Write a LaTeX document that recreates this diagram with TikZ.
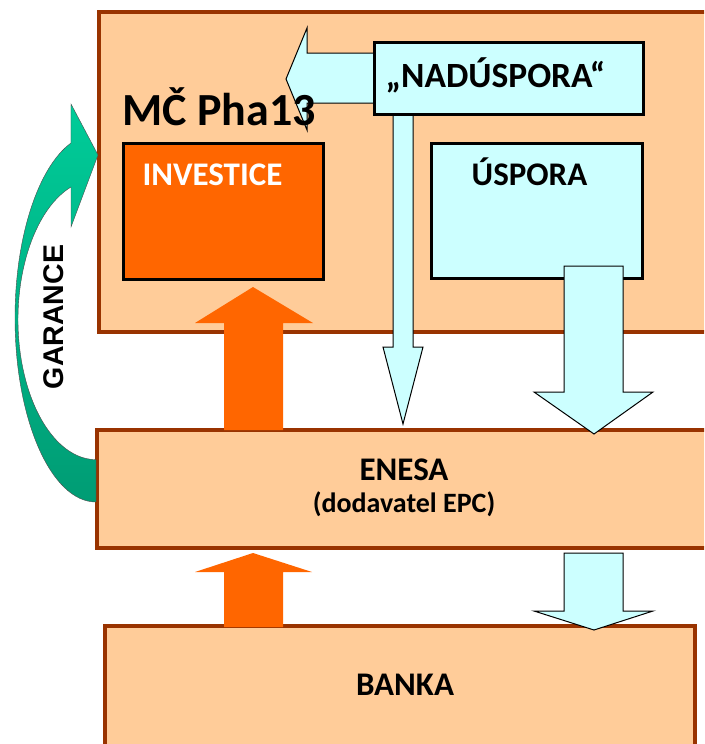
\documentclass[tikz,border=0pt]{standalone}
\usepackage{fontspec}
\setmainfont{Carlito}
\newfontfamily\garfont{Liberation Sans}
\definecolor{peach}{HTML}{FFCC99}
\definecolor{brownb}{HTML}{993300}
\definecolor{orng}{HTML}{FF6600}
\definecolor{lcyan}{HTML}{CCFFFF}
\definecolor{gtop}{HTML}{00CC99}
\definecolor{gbot}{HTML}{009C74}
\begin{document}
\begin{tikzpicture}[x=1pt,y=-1pt,
  bigbox/.style={draw=brownb, fill=peach, line width=3.5pt, inner sep=0pt},
  inbox/.style={draw=black, line width=3pt, inner sep=0pt},
  lbl/.style={font=\bfseries\fontsize{33}{36}\selectfont, anchor=base, inner sep=0pt},
  cyanarrow/.style={fill=lcyan, draw=black, line width=1pt, line join=miter},
  orarrow/.style={fill=orng, draw=none}]
\useasboundingbox (0,0) rectangle (704,744);
\clip (0,0) rectangle (704,744);

% big boxes
\node[bigbox, minimum width=620pt, minimum height=320pt] (mc) at (409,172) {};
\node[bigbox, minimum width=623pt, minimum height=118pt] (enesa) at (408.5,489) {};
\node[bigbox, minimum width=590pt, minimum height=134pt] (banka) at (400,693) {};

% inner boxes
\node[inbox, fill=orng, minimum width=200pt, minimum height=136pt] (inv) at (223,211) {};
\node[inbox, fill=lcyan, minimum width=211pt, minimum height=135pt] (usp) at (536.5,210.5) {};

% left-pointing cyan arrow (fill first, outline after text)
\fill[lcyan] (374,53) -- (307,53) -- (307,28) -- (286,79) -- (307,130) -- (307,103) -- (374,103) -- cycle;
\node[lbl, anchor=base west, font=\bfseries\fontsize{46}{50}\selectfont] (mctxt) at (122,125) {MČ Pha13};
\draw[black, line width=1pt, line join=miter] (374,53) -- (307,53) -- (307,28) -- (286,79) -- (307,130) -- (307,103) -- (374,103);

% narrow cyan arrow down from NADUSPORA
\draw[cyanarrow] (393,112) -- (393,347) -- (383,347) -- (403,424) -- (423,347) -- (413,347) -- (413,112) -- cycle;

% NADUSPORA box
\node[inbox, fill=lcyan, minimum width=269pt, minimum height=72pt] (nad) at (508.5,78) {};

% cyan arrow from USPORA to ENESA
\draw[cyanarrow] (564,266) -- (564,392) -- (534,392) -- (594,434) -- (653,392) -- (623,392) -- (623,266) -- cycle;
% cyan arrow from ENESA to BANKA
\draw[cyanarrow] (564,553) -- (564,611) -- (534,611) -- (594,630) -- (653,611) -- (623,611) -- (623,553) -- cycle;

% orange arrows
\fill[orarrow] (224,430) -- (224,323) -- (195,323) -- (253,287) -- (313,323) -- (283,323) -- (283,430) -- cycle;
\fill[orarrow] (224,627) -- (224,572) -- (195,572) -- (253,553) -- (312,572) -- (283,572) -- (283,627) -- cycle;

% GARANCE curved arrow
\shade[top color=gtop, bottom color=gbot, draw=black!70, line width=0.4pt]
  (96,502) arc[start angle=90, end angle=252, x radius=81, y radius=184]
  -- (71,104) -- (98,155) -- (71,227) -- (71,187)
  arc[start angle=251.3, end angle=90, x radius=78, y radius=140]
  -- cycle;
\node[rotate=90, inner sep=0pt, font=\garfont\bfseries\fontsize{28.5}{30}\selectfont] (gar) at (54,317) {GARANCE};

% labels
\node[lbl, text=white] (invtxt) at (212.5,185) {INVESTICE};
\node[lbl, font=\bfseries\fontsize{35.5}{38}\selectfont] (nadtxt) at (495.5,87) {„NADÚSPORA“};
\node[lbl] (usptxt) at (529.5,185) {ÚSPORA};
\node[lbl] (enetxt) at (404,480) {ENESA};
\node[lbl, font=\bfseries\fontsize{28}{30}\selectfont] (dodtxt) at (404,512) {(dodavatel EPC)};
\node[lbl] (bantxt) at (405,695) {BANKA};
\end{tikzpicture}
\end{document}
